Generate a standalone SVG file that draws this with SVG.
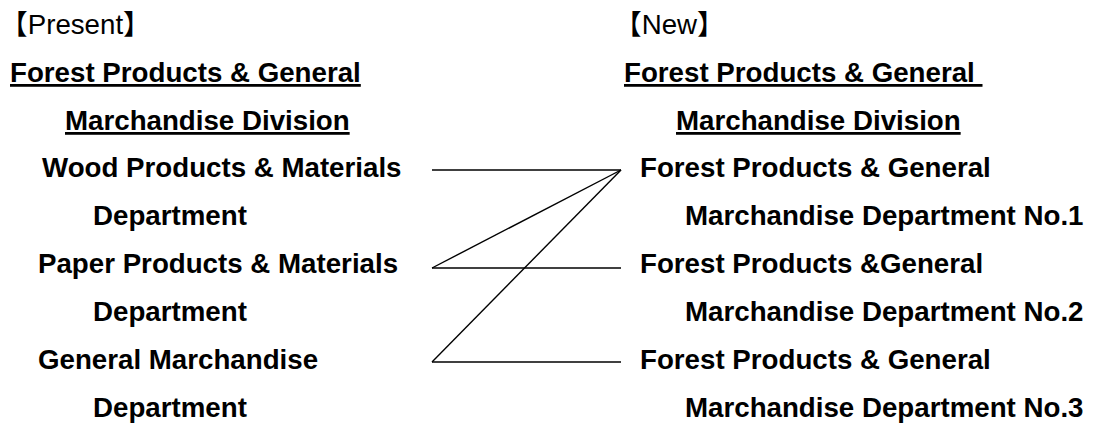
<svg xmlns="http://www.w3.org/2000/svg" width="1093" height="423" viewBox="0 0 1093 423">
<style>
text{font-family:"Liberation Sans",Arial,"Noto Sans CJK JP",sans-serif;font-size:27.7px;fill:#000}
.b{font-weight:bold}
.u{text-decoration:underline;white-space:pre}
.c line{stroke:#000;stroke-width:1.4;fill:none}
</style>
<rect width="1093" height="423" fill="#fff"/>
<g id="present-title"><text x="0" y="34">【Present】</text></g>
<g id="present-division"><text class="b u" x="10" y="82">Forest Products &amp; General</text><text class="b u" x="65" y="130">Marchandise Division</text></g>
<g id="wood"><text class="b" x="42" y="177">Wood Products &amp; Materials</text><text class="b" x="93" y="225">Department</text></g>
<g id="paper"><text class="b" x="38" y="273">Paper Products &amp; Materials</text><text class="b" x="93" y="321">Department</text></g>
<g id="general"><text class="b" x="38" y="369">General Marchandise</text><text class="b" x="93" y="417">Department</text></g>
<g id="new-title"><text x="614" y="34">【New】</text></g>
<g id="new-division"><text class="b u" x="624" y="82">Forest Products &amp; General </text><text class="b u" x="676" y="130">Marchandise Division</text></g>
<g id="dept1"><text class="b" x="640" y="177">Forest Products &amp; General</text><text class="b" x="685" y="225">Marchandise Department No.1</text></g>
<g id="dept2"><text class="b" x="640" y="273">Forest Products &amp;General</text><text class="b" x="685" y="321">Marchandise Department No.2</text></g>
<g id="dept3"><text class="b" x="640" y="369">Forest Products &amp; General</text><text class="b" x="685" y="417">Marchandise Department No.3</text></g>
<g id="connectors" class="c">
<line x1="432" y1="170" x2="621" y2="170"/>
<line x1="432" y1="268" x2="621" y2="170"/>
<line x1="432" y1="268" x2="621" y2="268"/>
<line x1="432" y1="362" x2="621" y2="170"/>
<line x1="432" y1="362" x2="621" y2="362"/>
</g>
</svg>
